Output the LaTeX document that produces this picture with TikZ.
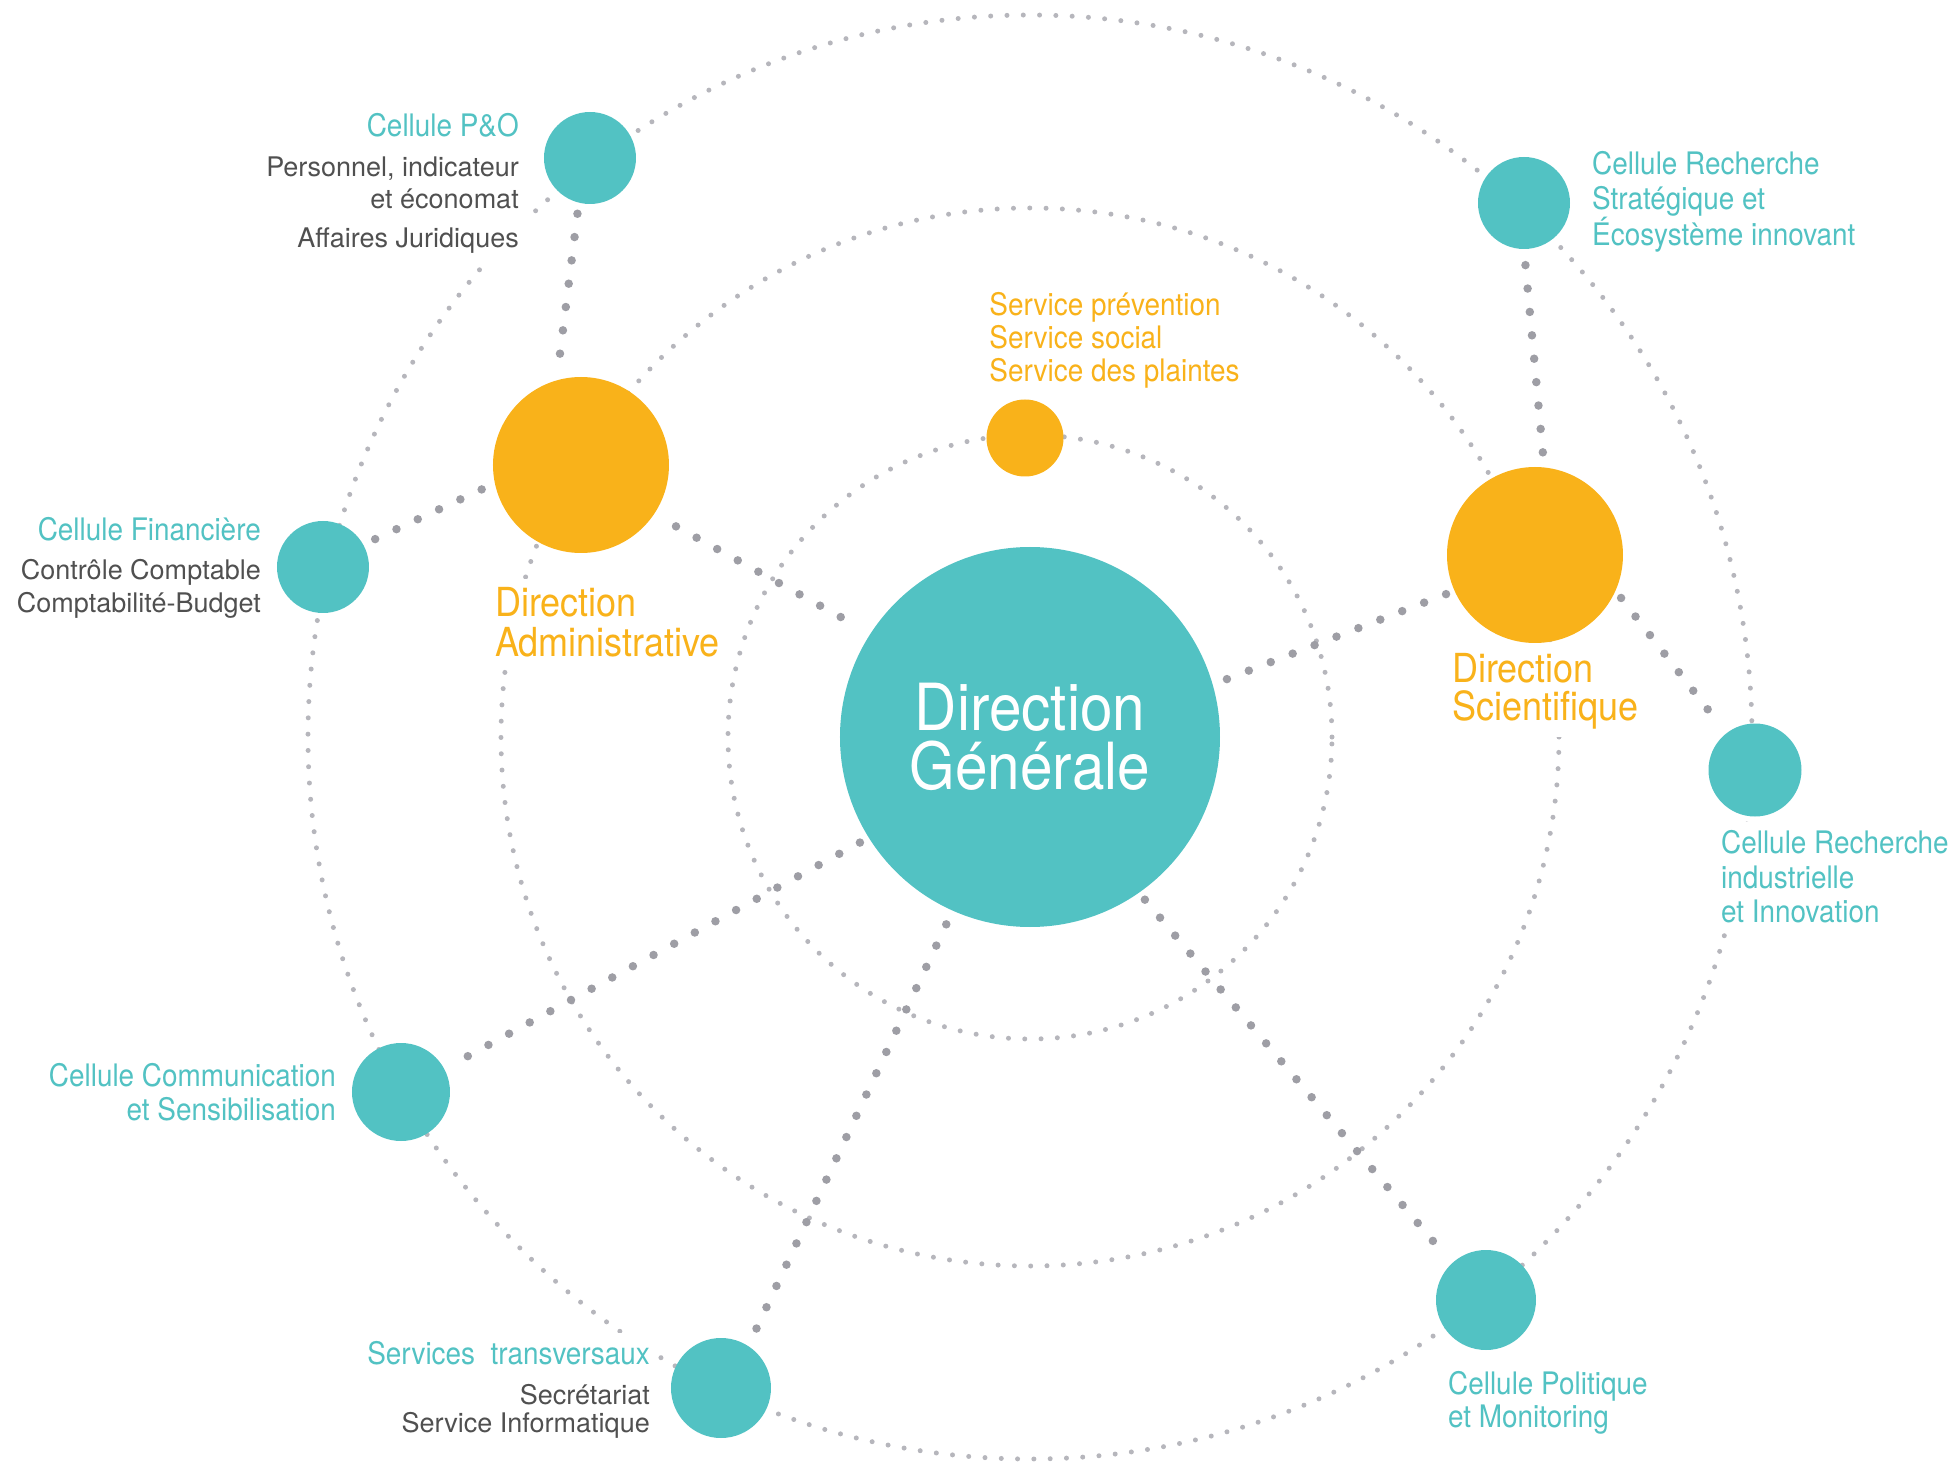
\documentclass[tikz,border=0pt]{standalone}
\usepackage{fontspec}
\setmainfont{TeX Gyre Heros}
\newfontfamily\labelfont[FakeStretch=0.9]{TeX Gyre Heros}
\definecolor{cellTeal}{RGB}{82,194,195}
\definecolor{dirOrange}{RGB}{249,178,26}
\definecolor{ringGray}{RGB}{182,182,188}
\definecolor{linkGray}{RGB}{158,158,165}
\definecolor{noteGray}{RGB}{80,80,80}

\begin{document}
\begin{tikzpicture}
[x=1pt,y=1pt,
 tealDecorate/.style={shape=circle,fill=cellTeal,inner sep=0pt},
 orangeDecorate/.style={shape=circle,fill=dirOrange,inner sep=0pt},
 ringDecorate/.style={ringGray,line width=5pt,line cap=round,dash pattern=on 0pt off 16.3pt},
 linkDecorate/.style={-,linkGray,line width=8.5pt,line cap=round,dash pattern=on 0pt off 23.5pt},
 titleDecorate/.style={fill=white,inner sep=8pt,text=cellTeal},
 orangeText/.style={fill=white,inner sep=8pt,text=dirOrange},
 noteDecorate/.style={fill=white,inner sep=8pt,text=noteGray}]
\useasboundingbox (-1030,-725) rectangle (925,737);
%% dotted rings
\foreach \ringname/\r in {inner/302, middle/529, outer/722} {
  \draw[ringDecorate] (0,0) circle (\r pt);
}
%% labels (multi-line ones sit on their last line)
\node (lblPO) at (-503,600.6) [titleDecorate,anchor=base east,font=\labelfont\fontsize{31}{35}\selectfont] {Cellule P\&O};
\node (notePO) at (-503,489) [noteDecorate,anchor=base east,align=right,font=\fontsize{27}{32}\selectfont] {Personnel, indicateur\\et économat\\[7.5pt]Affaires Juridiques};
\node (lblFin) at (-761,196.3) [titleDecorate,anchor=base east,font=\labelfont\fontsize{31}{35}\selectfont] {Cellule Financière};
\node (noteFin) at (-761,124) [noteDecorate,anchor=base east,align=right,font=\fontsize{27}{33.7}\selectfont] {Contrôle Comptable\\Comptabilité-Budget};
\node (lblCom) at (-686,-383) [titleDecorate,anchor=base east,align=right,font=\labelfont\fontsize{31}{34}\selectfont] {Cellule Communication\\et Sensibilisation};
\node (lblST) at (-372,-627) [titleDecorate,anchor=base east,font=\labelfont\fontsize{31}{35}\selectfont] {Services\ \ transversaux};
\node (noteST) at (-372,-695.7) [noteDecorate,anchor=base east,align=right,font=\fontsize{27}{28.7}\selectfont] {Secrétariat\\Service Informatique};
\node (lblRS) at (554,491.7) [titleDecorate,anchor=base west,align=left,font=\labelfont\fontsize{31}{34.7}\selectfont] {Cellule Recherche\\Stratégique et\\Écosystème innovant};
\node (lblSP) at (-48.7,355.3) [orangeText,anchor=base west,align=left,font=\labelfont\fontsize{31}{33.3}\selectfont] {Service prévention\\Service social\\Service des plaintes};
\node (lblDA) at (-543,81) [orangeText,anchor=base west,align=left,font=\labelfont\fontsize{40}{40}\selectfont] {Direction\\Administrative};
\node (lblDS) at (414,17) [orangeText,anchor=base west,align=left,font=\labelfont\fontsize{40}{38}\selectfont] {Direction\\Scientifique};
\node (lblRI) at (683,-185.8) [titleDecorate,anchor=base west,align=left,font=\labelfont\fontsize{31}{34.8}\selectfont] {Cellule Recherche\\industrielle\\et Innovation};
\node (lblPol) at (410,-690.8) [titleDecorate,anchor=base west,align=left,font=\labelfont\fontsize{31}{33.8}\selectfont] {Cellule Politique\\et Monitoring};
%% nodes or vertices
\node (dg) at (0,0) [tealDecorate,minimum size=380pt,text=white,align=center,font=\labelfont\fontsize{65}{58.7}\selectfont] {Direction\\Générale};
\foreach \nodename/\x/\y/\d in {da/-449/272/176, ds/505/182/176, sp/-5/299/77} {
  \node (\nodename) at (\x,\y) [orangeDecorate,minimum size=\d pt] {};
}
\foreach \nodename/\x/\y/\d in {po/-440/579/92, rs/494/534/92, fin/-707/170/92, ri/725/-33/93,
    com/-629/-355/98, st/-309/-651/100, pol/456/-563/100} {
  \node (\nodename) at (\x,\y) [tealDecorate,minimum size=\d pt] {};
}
%% links
\foreach \startnode/\sa/\ss/\endnode/\ea/\es in {po/256/11/da/106/8, fin/29/13/da/192/10,
    da/-34/25/dg/147/18, ds/204/9/dg/16/10, rs/270/16/ds/84/7, ds/-24/9/ri/128/16,
    dg/212/10/com/28/19, dg/246/15/st/57/17, dg/-55/9/pol/133/15} {
  \draw[linkDecorate,shorten <=\ss pt,shorten >=\es pt] (\startnode.\sa) -- (\endnode.\ea);
}
\end{tikzpicture}
\end{document}
